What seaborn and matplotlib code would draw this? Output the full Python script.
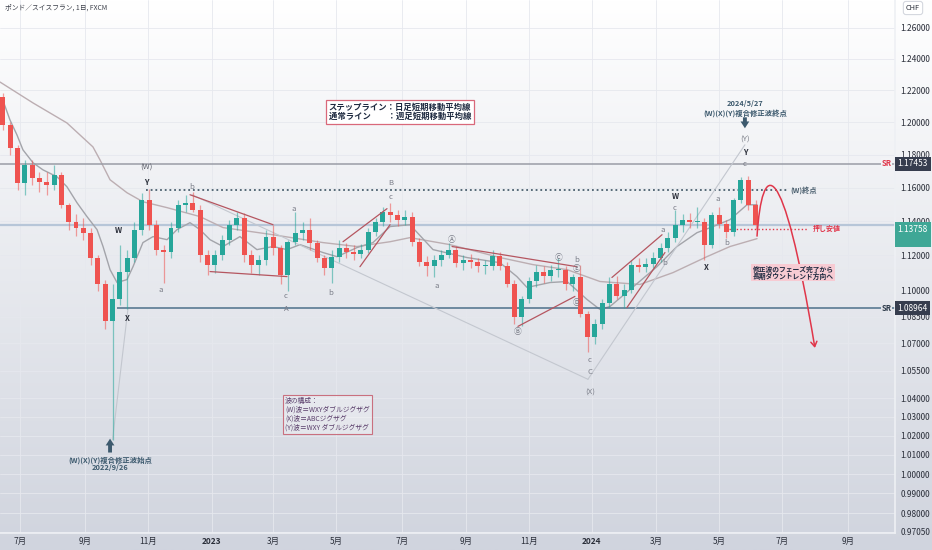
import numpy as np
import pandas as pd
import matplotlib
matplotlib.use("Agg")
import matplotlib.pyplot as plt
import matplotlib.transforms as mtrans
from matplotlib.path import Path
from matplotlib.patches import FancyArrowPatch
from matplotlib.ticker import FixedLocator, NullLocator, FuncFormatter
import seaborn as sns

# ---------------- data (weekly OHLC) ----------------
week_start = "2022-06-13"
open_first = 1.2158
week_high = [1.2184, 1.2002, 1.1860, 1.1768, 1.1768, 1.1695, 1.1695, 1.1738, 1.1695, 1.1509,
             1.1444, 1.1421, 1.1362, 1.1204, 1.1060, 1.1032, 1.1262, 1.1233, 1.1397, 1.1569,
             1.1590, 1.1409, 1.1262, 1.1397, 1.1527, 1.1557, 1.1575, 1.1497, 1.1233, 1.1233,
             1.1320, 1.1409, 1.1456, 1.1450, 1.1233, 1.1204, 1.1350, 1.1379, 1.1262, 1.1291,
             1.1456, 1.1397, 1.1421, 1.1291, 1.1204, 1.1233, 1.1291, 1.1274, 1.1262, 1.1268,
             1.1362, 1.1421, 1.1485, 1.1509, 1.1468, 1.1468, 1.1456, 1.1303, 1.1198, 1.1204,
             1.1233, 1.1274, 1.1256, 1.1204, 1.1210, 1.1187, 1.1175, 1.1233, 1.1221, 1.1163,
             1.1060, 1.0969, 1.1072, 1.1146, 1.1140, 1.1146, 1.1187, 1.1140, 1.1094, 1.1146,
             1.0879, 1.0834, 1.0947, 1.1072, 1.1083, 1.1032, 1.1175, 1.1187, 1.1187, 1.1221,
             1.1274, 1.1338, 1.1468, 1.1444, 1.1450, 1.1485, 1.1421, 1.1456, 1.1485, 1.1409,
             1.1539, 1.1665, 1.1672, 1.1527]
week_low = [1.1952, 1.1798, 1.1587, 1.1557, 1.1617, 1.1575, 1.1557, 1.1587, 1.1480, 1.1350,
            1.1314, 1.1291, 1.1146, 1.0992, 1.0778, 1.0180, 1.0918, 1.0890, 1.1163, 1.1320,
            1.1350, 1.1204, 1.1043, 1.1187, 1.1338, 1.1456, 1.1456, 1.1163, 1.1089, 1.1100,
            1.1175, 1.1262, 1.1350, 1.1163, 1.1100, 1.1089, 1.1146, 1.1204, 1.1032, 1.0992,
            1.1262, 1.1291, 1.1233, 1.1163, 1.1089, 1.1043, 1.1163, 1.1187, 1.1175, 1.1187,
            1.1216, 1.1314, 1.1373, 1.1397, 1.1373, 1.1379, 1.1256, 1.1140, 1.1083, 1.1072,
            1.1140, 1.1187, 1.1134, 1.1117, 1.1129, 1.1106, 1.1094, 1.1117, 1.1117, 1.1015,
            1.0806, 1.0795, 1.0924, 1.1015, 1.1043, 1.1049, 1.1077, 1.1003, 1.0992, 1.0845,
            1.0651, 1.0695, 1.0778, 1.0901, 1.0947, 1.0901, 1.0981, 1.1106, 1.1106, 1.1129,
            1.1163, 1.1221, 1.1279, 1.1338, 1.1362, 1.1362, 1.1175, 1.1245, 1.1362, 1.1303,
            1.1314, 1.1509, 1.1468, 1.1356]
week_close = [1.1983, 1.1841, 1.1629, 1.1738, 1.1659, 1.1635, 1.1617, 1.1677, 1.1497, 1.1397,
              1.1362, 1.1332, 1.1187, 1.1032, 1.0823, 1.0947, 1.1106, 1.1187, 1.1350, 1.1527,
              1.1379, 1.1233, 1.1221, 1.1362, 1.1497, 1.1509, 1.1468, 1.1204, 1.1146, 1.1204,
              1.1291, 1.1379, 1.1421, 1.1204, 1.1146, 1.1175, 1.1309, 1.1245, 1.1089, 1.1279,
              1.1332, 1.1350, 1.1274, 1.1187, 1.1129, 1.1192, 1.1245, 1.1221, 1.1210, 1.1233,
              1.1338, 1.1397, 1.1456, 1.1438, 1.1409, 1.1427, 1.1279, 1.1163, 1.1140, 1.1175,
              1.1204, 1.1233, 1.1157, 1.1175, 1.1163, 1.1140, 1.1140, 1.1198, 1.1140, 1.1037,
              1.0845, 1.0947, 1.1049, 1.1106, 1.1083, 1.1117, 1.1117, 1.1032, 1.1072, 1.0862,
              1.0734, 1.0806, 1.0924, 1.1037, 1.0964, 1.1003, 1.1146, 1.1134, 1.1152, 1.1187,
              1.1245, 1.1303, 1.1379, 1.1409, 1.1397, 1.1397, 1.1262, 1.1438, 1.1385, 1.1338,
              1.1527, 1.1647, 1.1497, 1.13758]

# moving averages (bar index, price)
wma_idx = [0, 22.6, 45.8, 63.6, 68.4, 75.3, 86.9, 97.8, 114.3, 136.8, 152.6, 186.8, 221.0,
           244.3, 266.9, 280.5, 307.9, 342.1, 364.7, 388.0, 410.5, 437.9, 460.5, 483.7, 499.5, 518.0]
wma_val = [1.2252, 1.2120, 1.1995, 1.1847, 1.1768, 1.1647, 1.1569, 1.1515, 1.1480, 1.1427, 1.1362,
           1.1320, 1.1274, 1.1251, 1.1279, 1.1303, 1.1262, 1.1187, 1.1146, 1.1117, 1.1049, 1.1032,
           1.1100, 1.1192, 1.1251, 1.1297]
dma_idx = [1.4, 6.8, 11.6, 15.7, 22.6, 29.4, 39.0, 45.8, 52.7, 59.5, 66.4, 70.5, 75.3, 80.1, 86.9,
           91.0, 97.8, 104.7, 114.3, 121.1, 130.0, 136.8, 143.7, 152.6, 164.2, 175.8, 186.8, 196.4,
           205.3, 221.0, 230.6, 244.3, 255.2, 266.9, 280.5, 296.3, 319.5, 342.1, 353.7, 360.6, 376.3,
           388.0, 401.6, 410.5, 417.4, 431.1, 449.5, 463.2, 476.9, 487.9, 499.5, 511.1, 518.0]
dma_val = [1.2152, 1.2014, 1.1921, 1.1829, 1.1750, 1.1707, 1.1665, 1.1605, 1.1509, 1.1427, 1.1350,
           1.1251, 1.1117, 1.1043, 1.1060, 1.1134, 1.1274, 1.1309, 1.1291, 1.1350, 1.1391, 1.1350,
           1.1291, 1.1251, 1.1309, 1.1233, 1.1251, 1.1233, 1.1262, 1.1216, 1.1192, 1.1245, 1.1274,
           1.1368, 1.1379, 1.1233, 1.1187, 1.1157, 1.1077, 1.1015, 1.1043, 1.1049, 1.0947, 1.0890,
           1.0907, 1.1003, 1.1134, 1.1251, 1.1332, 1.1368, 1.1409, 1.1497, 1.1497]

# price levels
sr_upper = 1.17453
sr_lower = 1.08964
last_price = 1.13758
w_end_level = 1.1587
support_level = 1.1356

# axis ticks
ytick_vals = [1.26, 1.24, 1.22, 1.20, 1.18, 1.16, 1.14, 1.12, 1.10, 1.085, 1.07, 1.055,
              1.04, 1.03, 1.02, 1.01, 1.00, 0.99, 0.98, 0.9705]
xtick_months = [(2022, 7), (2022, 9), (2022, 11), (2023, 1), (2023, 3), (2023, 5), (2023, 7),
                (2023, 9), (2023, 11), (2024, 1), (2024, 3), (2024, 5), (2024, 7), (2024, 9)]
xtick_labels = ["7月", "9月", "11月", "2023", "3月", "5月", "7月", "9月", "11月", "2024",
                "3月", "5月", "7月", "9月"]

# wave labels (bar index, price, text, kind)
wave_labels = [
    (99.9, 1.1718, "(W)", "m"), (99.9, 1.1629, "Y", "d"), (80.7, 1.1344, "W", "d"),
    (86.9, 1.0840, "X", "d"), (110.2, 1.1003, "a", "g"), (131.4, 1.1605, "b", "g"),
    (195.7, 1.0969, "c", "g"), (195.7, 1.0895, "A", "g"), (201.2, 1.1474, "a", "g"),
    (226.5, 1.0986, "b", "g"), (267.5, 1.1545, "c", "g"), (267.5, 1.1629, "B", "g"),
    (299.0, 1.1026, "a", "g"), (309.3, 1.1291, "Ⓐ", "g"), (354.4, 1.0761, "Ⓑ", "g"),
    (382.5, 1.1187, "Ⓒ", "g"), (394.8, 1.1175, "b", "g"), (394.8, 1.1123, "Ⓔ", "g"),
    (394.8, 1.0924, "Ⓓ", "g"), (403.7, 1.0607, "c", "g"), (403.7, 1.0541, "C", "g"),
    (403.7, 1.0429, "(X)", "g"), (453.6, 1.1350, "a", "g"), (455.0, 1.1157, "b", "g"),
    (461.9, 1.1545, "W", "d"), (461.9, 1.1480, "c", "g"), (483.0, 1.1129, "X", "d"),
    (491.3, 1.1533, "a", "g"), (497.4, 1.1274, "b", "g"), (509.7, 1.1743, "c", "g"),
    (509.7, 1.1810, "Y", "d"), (509.7, 1.1890, "(Y)", "g"),
]
# drawing tools: thin gray wave lines and red channel lines (bar index, price)
gray_lines = [((77.0, 1.0180), (87.5, 1.0890)),
              ((131.4, 1.1557), (402.3, 1.0503)),
              ((402.3, 1.0503), (509.7, 1.1860))]
red_lines = [((130.0, 1.1557), (186.8, 1.1379)), ((143.7, 1.1106), (196.4, 1.1077)),
             ((234.7, 1.1279), (264.8, 1.1474)), ((246.3, 1.1134), (266.9, 1.1379)),
             ((309.3, 1.1251), (394.8, 1.1134)), ((354.4, 1.0795), (393.4, 1.0964)),
             ((418.7, 1.1072), (453.0, 1.1320)), ((429.0, 1.0901), (455.0, 1.1216))]
# projected path (bezier control points)
proj_curve = [(518.0, 1.1312), (521.4, 1.1768), (535.1, 1.1829), (557.6, 1.0675)]

# ---------------- style ----------------
sns.set_theme(style="white")
plt.rcParams["font.family"] = ["Noto Sans CJK JP", "DejaVu Sans"]
plt.rcParams["axes.unicode_minus"] = False

W, H = 932, 550
fig = plt.figure(figsize=(W / 100, H / 100), dpi=100)

bg = fig.add_axes([0, 0, 1, 1], zorder=-10)
g = np.linspace(0, 1, 256)[:, None, None]
top = np.array([1.0, 1.0, 1.0])[None, None, :]
bot = (np.array([208, 212, 222]) / 255)[None, None, :]
bg.imshow(top * (1 - g) + bot * g, aspect="auto", extent=[0, 1, 0, 1])
bg.axis("off")

ax = fig.add_axes([0, 17 / H, 895 / W, 533 / H])
ax.set_facecolor("none")

# positions on a business-day axis
bdays = pd.bdate_range("2022-06-13", "2024-12-31")
pos = pd.Series(np.arange(len(bdays)), index=bdays)
week_dates = pd.date_range(week_start, periods=len(week_close), freq="7D")
xc = pos.reindex(week_dates).to_numpy().astype(float) + 2.0

c = np.array(week_close)
o = np.array([open_first] + week_close[:-1])
h = np.array(week_high)
l = np.array(week_low)
GREEN, RED = "#26a69a", "#ef5350"
col = np.where(c >= o, GREEN, RED)

ax.set_yscale("log")

# moving averages
sns.lineplot(x=wma_idx, y=wma_val, ax=ax, color="#bcaeb2", lw=1.0, sort=False, estimator=None, zorder=2)
sns.lineplot(x=dma_idx, y=dma_val, ax=ax, color="#a3a4aa", lw=1.0, sort=False, estimator=None, zorder=2)

# candles
ax.vlines(xc, l, h, colors=col, lw=0.9, alpha=0.55, zorder=3)
ax.bar(xc, np.maximum(np.abs(c - o), 0.0006), bottom=np.minimum(o, c), width=3.4,
       color=col, edgecolor="none", zorder=4)

# horizontal levels
ax.axhline(last_price, color="#b7c6d8", lw=1.6, zorder=1.5)
ax.axhline(sr_upper, color="#9a9da6", lw=1.1, zorder=2)
ax.hlines(sr_lower, 80, 620, color="#4d7089", lw=1.1, zorder=2)
ax.hlines(w_end_level, 99.9, 539, colors="#4a5e6e", linestyles=(0, (1, 1.6)), lw=1.3, zorder=2)
ax.hlines(support_level, 499, 553, colors="#e0364a", linestyles=(0, (1, 1.6)), lw=1.0, zorder=2)

for (x0, y0), (x1, y1) in gray_lines:
    ax.plot([x0, x1], [y0, y1], color="#c3c7cf", lw=0.8, zorder=2)
for (x0, y0), (x1, y1) in red_lines:
    ax.plot([x0, x1], [y0, y1], color="#b55660", lw=0.9, zorder=5)

# projected red curve
path = Path(proj_curve, [Path.MOVETO, Path.CURVE4, Path.CURVE4, Path.CURVE4])
arr = FancyArrowPatch(path=path, arrowstyle="->,head_length=3.5,head_width=2.2", color="#e0364a",
                      lw=1.1, shrinkA=0, shrinkB=0, zorder=6)
ax.add_patch(arr)

# axes, ticks
ax.set_xlim(0, 612.4)
ax.set_ylim(0.9699, 1.2784)
ax.yaxis.set_major_locator(FixedLocator(ytick_vals))
ax.yaxis.set_minor_locator(NullLocator())
ax.yaxis.set_major_formatter(FuncFormatter(lambda v, p: f"{v:.5f}"))
ax.yaxis.tick_right()
ax.tick_params(axis="y", which="both", length=0, pad=4, labelsize=6.0, labelcolor="#2a2e39")

first = pos.groupby([pos.index.year, pos.index.month]).first()
xt = [first[(yy, mm)] for yy, mm in xtick_months]
ax.xaxis.set_major_locator(FixedLocator(xt))
ax.xaxis.set_minor_locator(NullLocator())
ax.set_xticklabels(xtick_labels)
ax.tick_params(axis="x", length=0, pad=3, labelsize=6.0, labelcolor="#2a2e39")
for t in ax.get_xticklabels():
    if t.get_text().startswith("20"):
        t.set_fontweight("bold")

ax.grid(True, color="#e6e8ee", lw=0.6, zorder=0)
for s in ["top", "left"]:
    ax.spines[s].set_visible(False)
for s in ["right", "bottom"]:
    ax.spines[s].set_color("#eef0f4")
    ax.spines[s].set_linewidth(1.2)

# wave labels
kind_color = {"g": "#7c7f8a", "d": "#2a2e39", "m": "#5d606b"}
for x, y, txt, k in wave_labels:
    ax.text(x, y, txt, ha="center", va="center", fontsize=5.6, color=kind_color[k],
            fontweight="bold" if k == "d" else "normal", zorder=7)

# level labels
ax.text(606.5, sr_upper, "SR", ha="center", va="center", fontsize=5.5, color="#e0364a",
        fontweight="bold", zorder=8, bbox=dict(facecolor="#f2f3f6", edgecolor="none", pad=0.6))
ax.text(606.5, sr_lower, "SR", ha="center", va="center", fontsize=5.5, color="#2d3a4a",
        fontweight="bold", zorder=8, bbox=dict(facecolor="#e4e6eb", edgecolor="none", pad=0.6))
ax.text(540.5, w_end_level, "(W)終点", ha="left", va="center", fontsize=5.2, color="#4a5e6e",
        fontweight="bold", fontstyle="italic", zorder=8)
ax.text(556.5, support_level, "押し安値", ha="left", va="center", fontsize=5.0, color="#e0364a",
        fontweight="bold", fontstyle="italic", zorder=8)

tr = mtrans.blended_transform_factory(ax.transAxes, ax.transData)
ax.text(1.003, sr_upper, "1.17453", transform=tr, ha="left", va="center", fontsize=6.0,
        color="white", clip_on=False, zorder=20,
        bbox=dict(boxstyle="square,pad=0.3", facecolor="#363d4e", edgecolor="none"))
ax.text(1.003, sr_lower, "1.08964", transform=tr, ha="left", va="center", fontsize=6.0,
        color="white", clip_on=False, zorder=20,
        bbox=dict(boxstyle="square,pad=0.3", facecolor="#363d4e", edgecolor="none"))
ax.text(1.003, last_price, "1.13758\n ", transform=tr, ha="left", va="top", fontsize=6.0,
        color="white", clip_on=False, zorder=20, linespacing=1.1,
        bbox=dict(boxstyle="square,pad=0.35", facecolor="#3fa796", edgecolor="none"))

# annotations
ann_col = "#3d5a6e"
arrow_style = "simple,head_width=0.9,head_length=0.7,tail_width=0.4"
ax.annotate("", xy=(75.3, 1.0185), xytext=(75.3, 1.0112),
            arrowprops=dict(arrowstyle=arrow_style, mutation_scale=7, color=ann_col, lw=0,
                            shrinkA=0, shrinkB=0), zorder=8)
ax.text(75.3, 1.0073, "(W)(X)(Y)複合修正波始点", ha="center", va="center", fontsize=5.3,
        color=ann_col, fontweight="bold", zorder=8)
ax.text(75.3, 1.0032, "2022/9/26", ha="center", va="center", fontsize=5.3,
        color=ann_col, fontweight="bold", zorder=8)
ax.text(509.7, 1.2114, "2024/5/27", ha="center", va="center", fontsize=5.3,
        color=ann_col, fontweight="bold", zorder=8)
ax.text(509.7, 1.2057, "(W)(X)(Y)複合修正波終点", ha="center", va="center", fontsize=5.3,
        color=ann_col, fontweight="bold", zorder=8)
ax.annotate("", xy=(509.7, 1.1962), xytext=(509.7, 1.2030),
            arrowprops=dict(arrowstyle=arrow_style, mutation_scale=7, color=ann_col, lw=0,
                            shrinkA=0, shrinkB=0), zorder=8)

ax.text(273.7, 1.2063, "ステップライン：日足短期移動平均線\n通常ライン　　：週足短期移動平均線",
        ha="center", va="center", fontsize=6.0, color="#1e2a40", fontweight="bold",
        linespacing=1.05, zorder=9,
        bbox=dict(boxstyle="square,pad=0.35", facecolor="white", edgecolor="#d9687a", lw=0.9))
ax.text(195.0, 1.0407, "波の構成：\n(W)波＝WXYダブルジグザグ\n(X)波＝ABCジグザグ\n(Y)波＝WXY ダブルジグザグ",
        ha="left", va="top", fontsize=4.9, color="#5a3e6b", linespacing=1.15, zorder=9,
        bbox=dict(boxstyle="square,pad=0.3", facecolor=(1, 1, 1, 0.3), edgecolor="#c9707f", lw=0.8))
ax.text(542.6, 1.1098, "修正波のフェーズ完了から\n長期ダウントレンド方向へ", ha="center", va="center",
        fontsize=4.9, color="#1e2a40", fontweight="bold", linespacing=1.1, zorder=9,
        bbox=dict(boxstyle="square,pad=0.15", facecolor="#f7cbd3", edgecolor="none"))

# header
fig.text(5 / W, 1 - 8 / H, "ポンド／スイスフラン, 1日, FXCM", ha="left", va="center",
         fontsize=4.9, color="#3a3e48")
fig.text(913 / W, 1 - 8 / H, "CHF", ha="center", va="center", fontsize=5.3, color="#2a2e39",
         bbox=dict(boxstyle="round,pad=0.35", facecolor="white", edgecolor="#d5d8df", lw=0.8))

fig.savefig("out.png", dpi=100)
